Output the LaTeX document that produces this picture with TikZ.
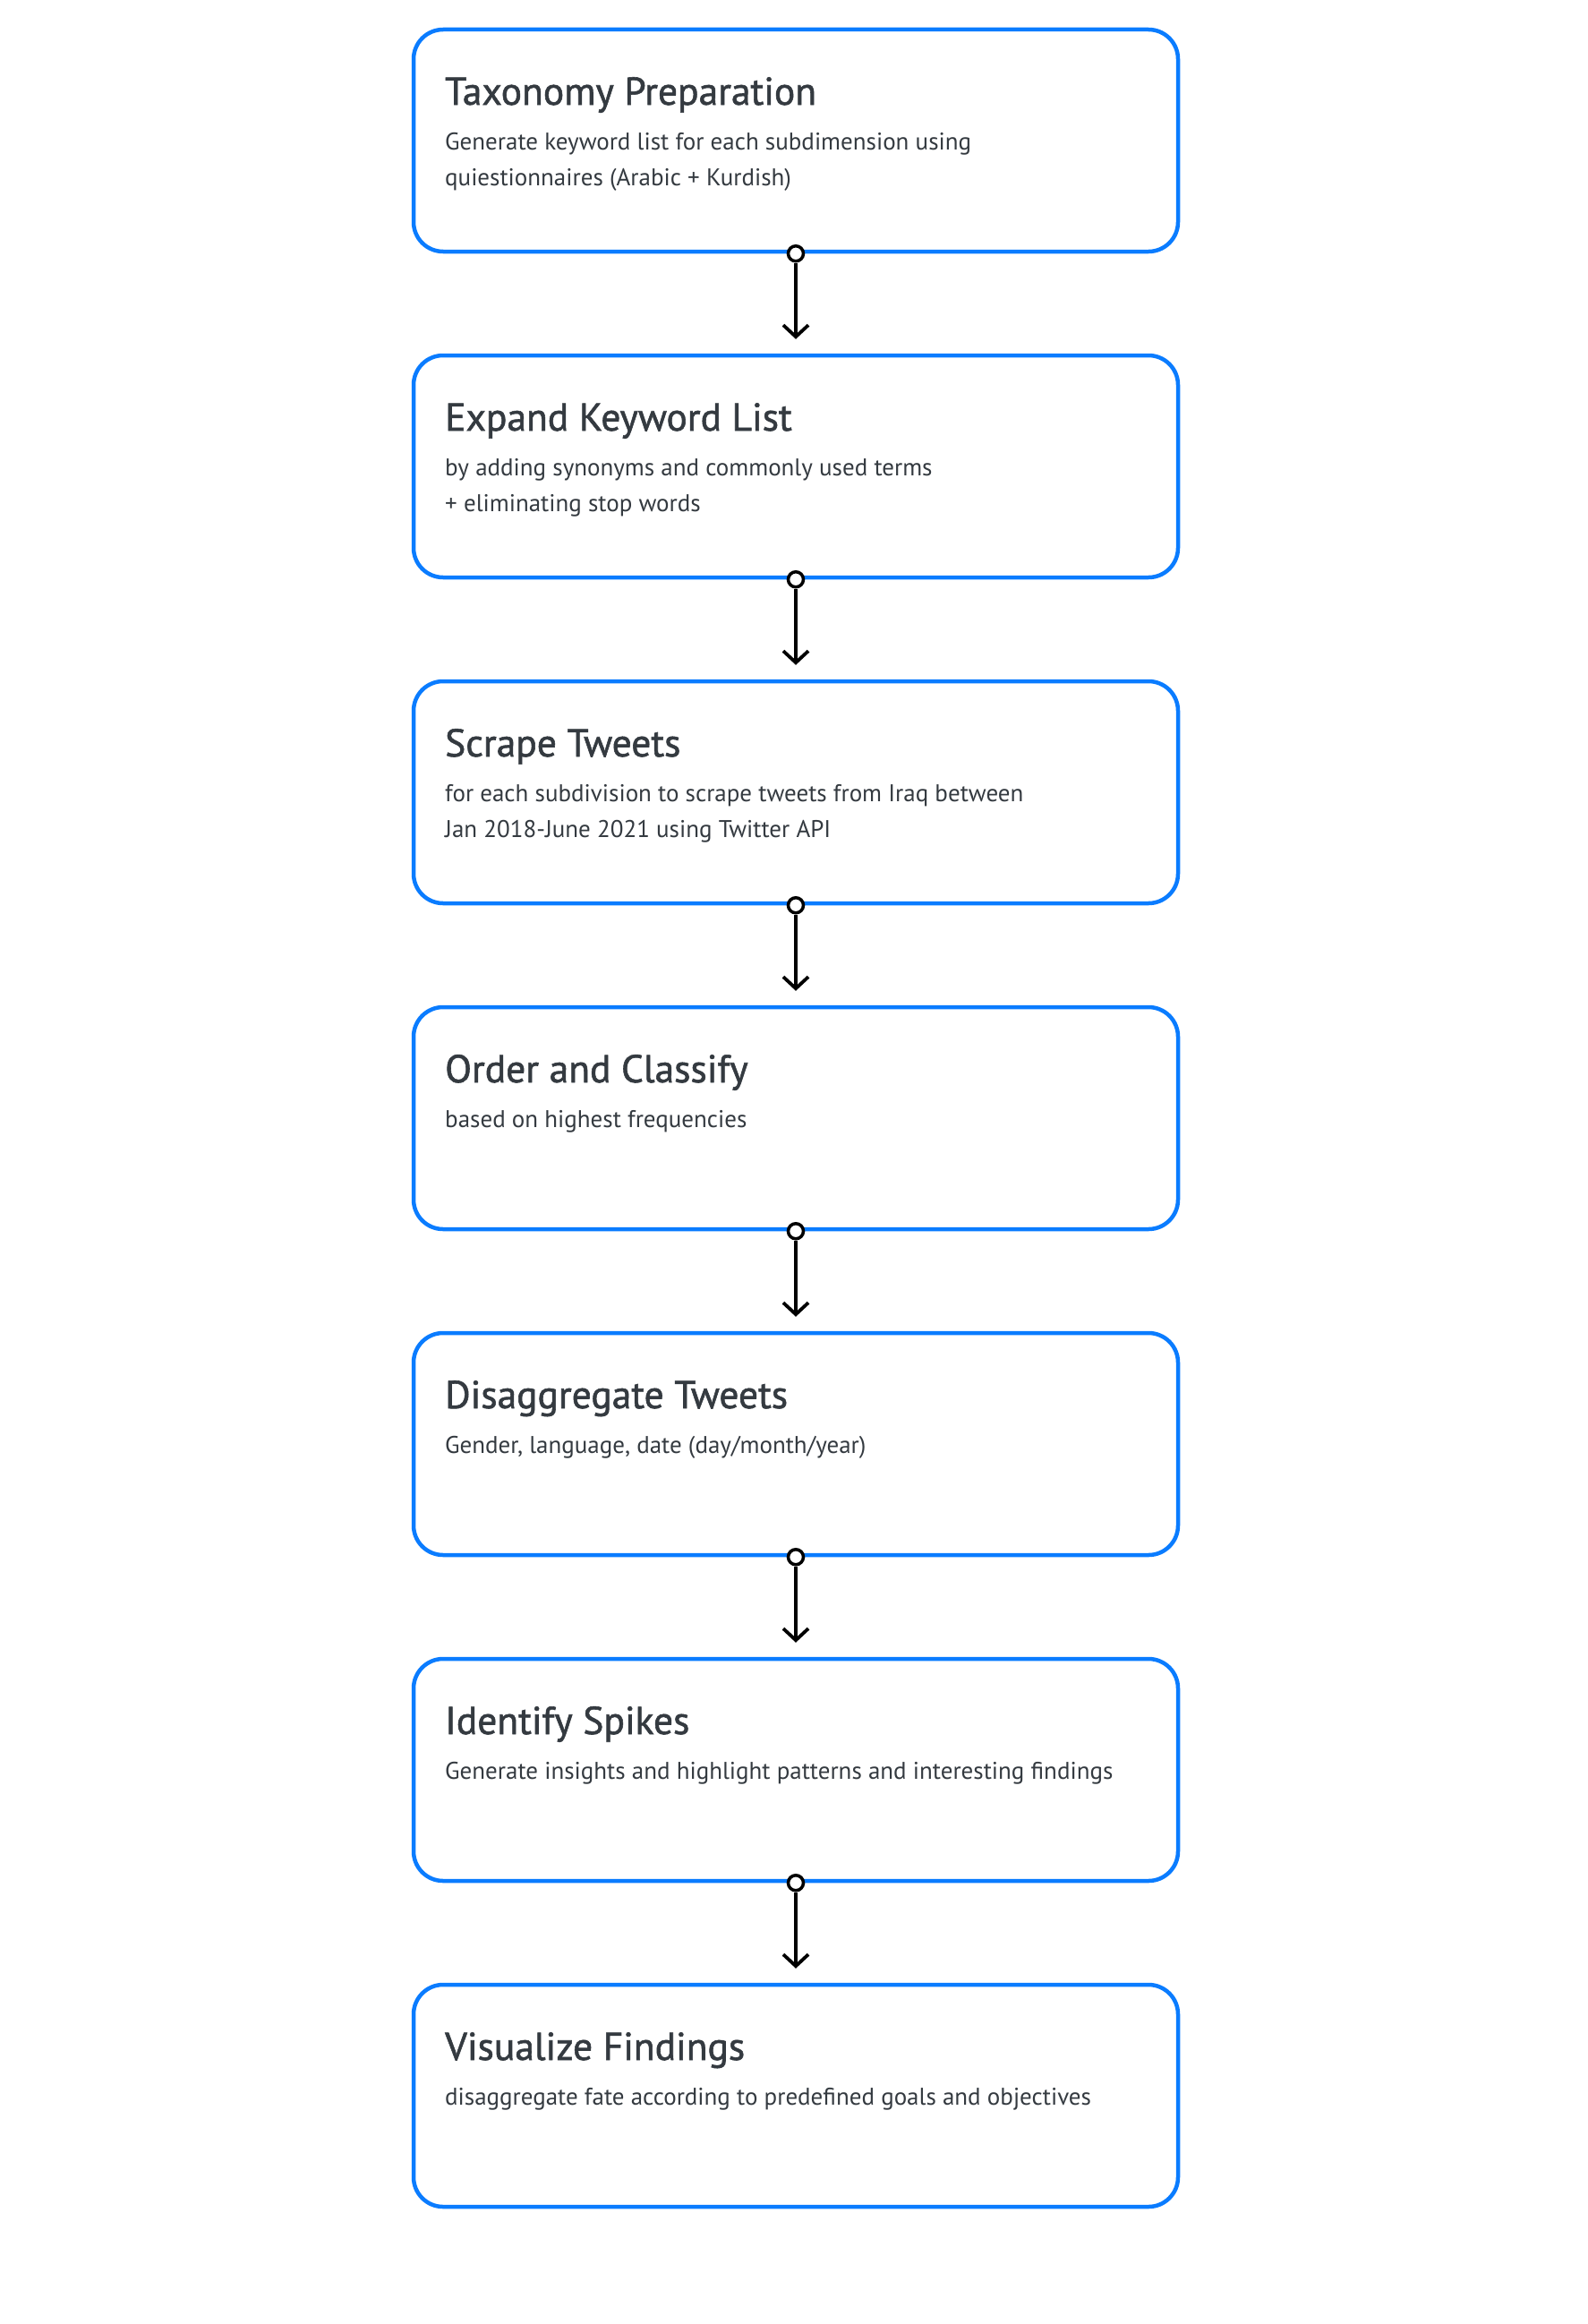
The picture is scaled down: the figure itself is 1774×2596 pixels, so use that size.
\documentclass[tikz,border=0pt]{standalone}
\usepackage{fontspec}
\setmainfont{PT Sans}
\newfontfamily\titlefont[FakeBold=1.3]{PT Sans}
\usetikzlibrary{arrows.meta}
\definecolor{boxblue}{HTML}{0A7CFF}
\definecolor{txt}{HTML}{343A40}
\tikzset{
  stepbox/.style={draw=boxblue, line width=4.5pt, rounded corners=33pt, minimum width=854pt, minimum height=248pt, inner sep=0pt},
  ttl/.style={anchor=base west, inner sep=0pt, text=txt, font=\titlefont\fontsize{43.5}{48}\selectfont},
  bdy/.style={anchor=base west, inner sep=0pt, text=txt, font=\fontsize{27}{40}\selectfont},
  dot/.style={circle, draw=black, fill=white, line width=3.5pt, minimum size=17pt, inner sep=0pt},
  conn/.style={draw=black, line width=3.8pt, -{Straight Barb[length=13pt,width=28pt,line width=3.8pt]}, shorten >=16pt}
}
\begin{document}
\begin{tikzpicture}[x=1pt,y=-1pt]
\useasboundingbox[fill=white] (0,0) rectangle (1774,2596);
\foreach \i/\t in {1/33,2/397,3/761,4/1125,5/1489,6/1853,7/2217}{
  \node[stepbox] (b\i) at (889,\t+124) {};
}
\node[ttl] (t1) at (497,33+84) {Taxonomy Preparation};
\node[bdy] (t1a) at (497,33+134) {Generate keyword list for each subdimension using};
\node[bdy] (t1b) at (497,33+174) {quiestionnaires (Arabic + Kurdish)};
\node[ttl] (t2) at (497,397+84) {Expand Keyword List};
\node[bdy] (t2a) at (497,397+134) {by adding synonyms and commonly used terms};
\node[bdy] (t2b) at (497,397+174) {+ eliminating stop words};
\node[ttl] (t3) at (497,761+84) {Scrape Tweets};
\node[bdy] (t3a) at (497,761+134) {for each subdivision to scrape tweets from Iraq between};
\node[bdy] (t3b) at (497,761+174) {Jan 2018-June 2021 using Twitter API};
\node[ttl] (t4) at (497,1125+84) {Order and Classify};
\node[bdy] (t4a) at (497,1125+134) {based on highest frequencies};
\node[ttl] (t5) at (497,1489+84) {Disaggregate Tweets};
\node[bdy] (t5a) at (497,1489+134) {Gender, language, date (day/month/year)};
\node[ttl] (t6) at (497,1853+84) {Identify Spikes};
\node[bdy] (t6a) at (497,1853+134) {Generate insights and highlight patterns and interesting findings};
\node[ttl] (t7) at (497,2217+84) {Visualize Findings};
\node[bdy] (t7a) at (497,2217+134) {disaggregate fate according to predefined goals and objectives};
\foreach \i [evaluate=\i as \j using int(\i+1)] in {1,...,6}{
  \node[dot] (c\i) at (b\i.south) {};
  \draw[conn] (c\i.south) -- (b\j.north);
}
\end{tikzpicture}
\end{document}
